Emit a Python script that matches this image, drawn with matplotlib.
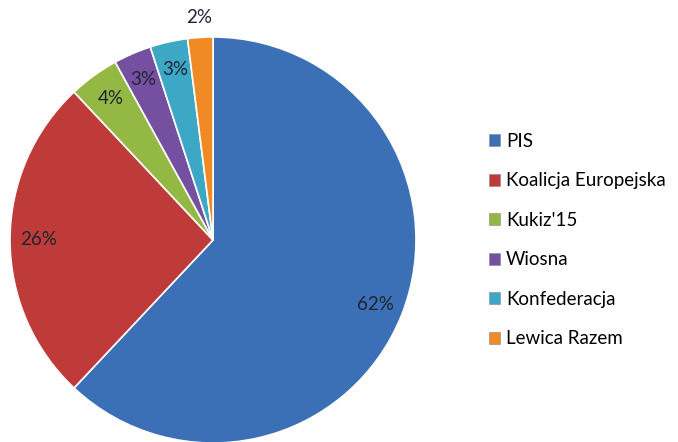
import matplotlib.pyplot as plt
import numpy as np
from matplotlib.patches import Patch

parties = ["PIS", "Koalicja Europejska", "Kukiz'15", "Wiosna", "Konfederacja", "Lewica Razem"]
shares = [62, 26, 4, 3, 3, 2]
colors = ["#3B70B6", "#BE3B3A", "#93B944", "#7650A0", "#3DA8C6", "#F08A24"]

plt.rcParams['font.family'] = ['Lato', 'DejaVu Sans']

fig = plt.figure(figsize=(6.78, 4.42), dpi=100)
W, H = 678, 442
cx, cy, r = 213, 240, 203

# pie axes sized so that the pie circle matches the reference
ax = fig.add_axes([(cx - r) / W, (H - cy - r) / H, 2 * r / W, 2 * r / H])
wedges, texts, autotexts = ax.pie(
    shares,
    colors=colors,
    startangle=90,
    counterclock=False,
    autopct='%1.0f%%',
    pctdistance=0.86,
    wedgeprops=dict(edgecolor='white', linewidth=1.2),
    textprops=dict(fontsize=13.5, color='#1d2530'),
)
ax.set_xlim(-1, 1)
ax.set_ylim(-1, 1)
ax.set_aspect('equal')
ax.axis('off')
for w in wedges:
    w.set_clip_on(False)

# the smallest slice gets its label outside the pie
w = wedges[-1]
mid = np.deg2rad((w.theta1 + w.theta2) / 2)
autotexts[-1].set_position((1.1 * np.cos(mid), 1.1 * np.sin(mid)))

handles = [Patch(facecolor=c, edgecolor='#888888', linewidth=0.4) for c in colors]
fig.legend(
    handles, parties,
    loc='upper left',
    bbox_to_anchor=(472 / W, 1 - 116 / H),
    frameon=False,
    fontsize=13.5,
    handlelength=0.6,
    handleheight=0.6,
    handletextpad=0.3,
    labelspacing=1.2,
)

fig.savefig("out.png", dpi=100)
